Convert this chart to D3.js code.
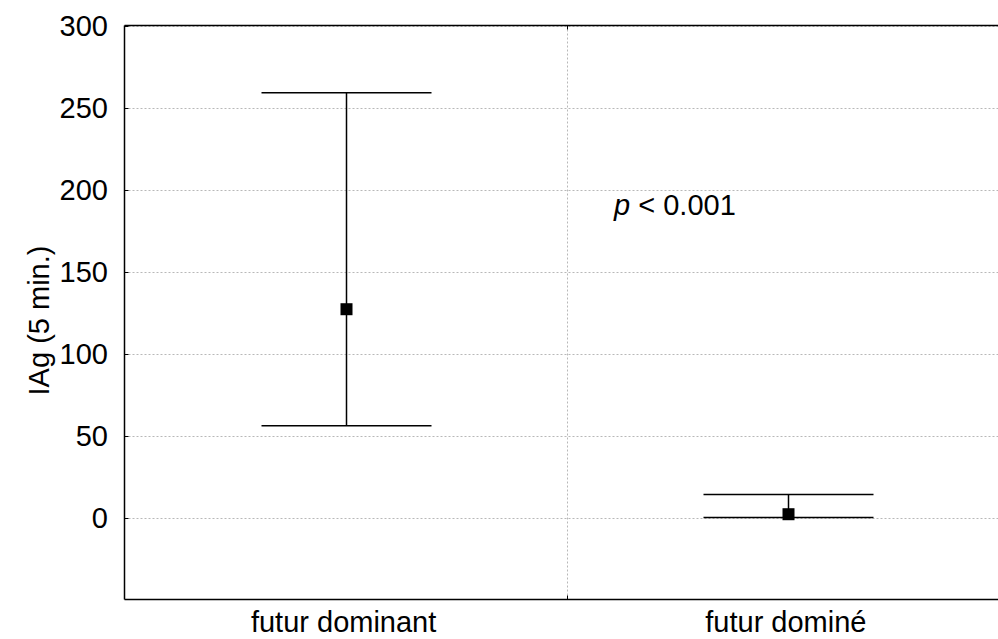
<!DOCTYPE html>
<html><head><meta charset="utf-8">
<script src="https://cdn.jsdelivr.net/npm/d3@7"></script>
<style>body{margin:0;background:#fff}svg{display:block}text{font-family:"Liberation Sans",Arial,sans-serif}</style>
</head><body><svg id="c" width="998" height="639"></svg>
<script>
const categories = ["futur dominant", "futur dominé"];
const means = [127, 2];
const upper = [259, 14];
const lower = [56, 0];
const yTicks = [0, 50, 100, 150, 200, 250, 300];
const yLabel = "IAg (5 min.)";

const svg = d3.select("#c");
const L = 124.5, T = 25.5, B = 599.5, R = 1009;
const fs = 29;
const x = d3.scaleBand().domain(categories).range([L, R]);
const y = d3.scaleLinear().domain([-50, 300]).range([B, T]);

// grid
svg.append("g").selectAll("line").data(yTicks).join("line")
  .attr("x1", L).attr("x2", R).attr("y1", d => Math.round(y(d)) + 0.5).attr("y2", d => Math.round(y(d)) + 0.5)
  .attr("stroke", "#b8b8b8").attr("stroke-width", 1).attr("stroke-dasharray", "2,2");
const xMid = x(categories[1]);
svg.append("line").attr("x1", Math.round(xMid) + 0.5).attr("x2", Math.round(xMid) + 0.5).attr("y1", T).attr("y2", B)
  .attr("stroke", "#b8b8b8").attr("stroke-dasharray", "2,2");

// axes frame
svg.append("line").attr("x1", L).attr("x2", R).attr("y1", T).attr("y2", T).attr("stroke", "#000").attr("stroke-width", 1.5);
svg.append("line").attr("x1", L).attr("x2", R).attr("y1", B).attr("y2", B).attr("stroke", "#000").attr("stroke-width", 1.5);
svg.append("line").attr("x1", L).attr("x2", L).attr("y1", T).attr("y2", B).attr("stroke", "#000").attr("stroke-width", 1.5);

// y ticks
svg.append("g").selectAll("line").data(yTicks).join("line")
  .attr("x1", L).attr("x2", L + 4).attr("y1", d => Math.round(y(d)) + 0.5).attr("y2", d => Math.round(y(d)) + 0.5)
  .attr("stroke", "#000");
svg.append("g").selectAll("text").data(yTicks).join("text")
  .attr("x", 108).attr("y", d => y(d)).attr("dy", "0.36em").attr("text-anchor", "end")
  .attr("font-size", fs).text(d => d);
// x ticks at band boundary
svg.append("line").attr("x1", Math.round(xMid) + 0.5).attr("x2", Math.round(xMid) + 0.5).attr("y1", T).attr("y2", T + 4).attr("stroke", "#000");
svg.append("line").attr("x1", Math.round(xMid) + 0.5).attr("x2", Math.round(xMid) + 0.5).attr("y1", B - 4).attr("y2", B).attr("stroke", "#000");

// x labels
svg.append("g").selectAll("text").data(categories).join("text")
  .attr("x", d => x(d) + x.bandwidth() / 2 - 2).attr("y", 632).attr("text-anchor", "middle")
  .attr("font-size", fs).text(d => d);

// y label
svg.append("text").attr("transform", `translate(49,${(T + B) / 2 + 8}) rotate(-90)`)
  .attr("text-anchor", "middle").attr("font-size", fs).text(yLabel);

// error bars
const cap = 85;
const g = svg.append("g");
categories.forEach((c, i) => {
  const cx = Math.round(x(c) + x.bandwidth() / 2) + 0.5;
  g.append("line").attr("x1", cx).attr("x2", cx).attr("y1", y(upper[i])).attr("y2", y(lower[i])).attr("stroke", "#000").attr("stroke-width", 1.5);
  [upper[i], lower[i]].forEach(v => {
    g.append("line").attr("x1", cx - cap).attr("x2", cx + cap).attr("y1", y(v)).attr("y2", y(v)).attr("stroke", "#000").attr("stroke-width", 1.5);
  });
  g.append("rect").attr("x", cx - 6).attr("y", y(means[i]) - 6).attr("width", 12).attr("height", 12).attr("fill", "#000");
});

// annotation
const ann = svg.append("text").attr("x", 614).attr("y", 215).attr("font-size", fs);
ann.append("tspan").attr("font-style", "italic").text("p");
ann.append("tspan").text(" < 0.001");
</script></body></html>
